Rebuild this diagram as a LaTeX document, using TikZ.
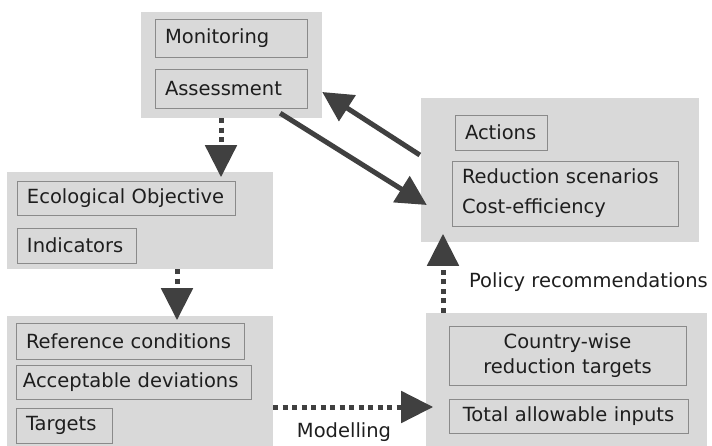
\documentclass[tikz,border=0pt]{standalone}
\usepackage{fontspec}
\setmainfont{DejaVu Sans}
\usetikzlibrary{arrows.meta,calc}
\definecolor{grp}{HTML}{D9D9D9}
\definecolor{bord}{HTML}{8A8A8A}
\definecolor{ink}{HTML}{1E1E1E}
\definecolor{arr}{HTML}{404040}
\begin{document}
\begin{tikzpicture}[x=1pt,y=-1pt,
  group/.style={fill=grp,draw=none,inner sep=0pt,minimum width=#1},
  item/.style={draw=bord,line width=0.8pt,fill=grp,inner xsep=10pt,inner ysep=0pt,
     text=ink,font=\fontsize{19.5}{30}\selectfont,align=left,text width=#1},
  ctritem/.style={item=#1,align=center},
  lbl/.style={text=ink,font=\fontsize{19.5}{23}\selectfont,inner sep=0pt},
  dotarr/.style={draw=arr,line width=5pt,dash pattern=on 5pt off 4.5pt,
     -{Triangle[length=32pt,width=31pt,fill=arr]}},
  solarr/.style={draw=arr,line width=5pt,
     -{Triangle[length=30pt,width=30pt,fill=arr]}}]
\useasboundingbox (0,0) rectangle (712,446);
% groups
\node[group=181pt,minimum height=106pt] (G1) at (231.5,65) {};
\node[group=266pt,minimum height=97pt]  (G2) at (140,220.5) {};
\node[group=266pt,minimum height=130pt] (G3) at (140,381) {};
\node[group=278pt,minimum height=144pt] (G4) at (560,170) {};
\node[group=281pt,minimum height=133pt] (G5) at (566.5,379.5) {};
% items
\node[item=132pt,minimum height=38pt] (mon) at (231,38) {Monitoring};
\node[item=132pt,minimum height=39pt] (ass) at (231,88.5) {Assessment};
\node[item=198pt,minimum height=34pt] (eco) at (126,198) {Ecological Objective};
\node[item=99pt,minimum height=35pt] (ind) at (76.5,245.5) {Indicators};
\node[item=208pt,minimum height=36pt] (ref) at (130,341) {Reference conditions};
\node[item=221pt,inner xsep=7pt,minimum height=34pt] (acc) at (133.5,382) {Acceptable deviations};
\node[item=76pt,minimum height=35pt] (tar) at (64,425.5) {Targets};
\node[item=72pt,minimum height=35pt] (act) at (501,132.5) {Actions};
\node[item=206pt,minimum height=65pt] (red) at (565,193.5) {Reduction scenarios\\Cost-efficiency};
\node[ctritem=217pt,minimum height=59pt,font=\fontsize{19.5}{25}\selectfont] (cty) at (567.5,355.5) {Country-wise\\reduction targets};
\node[ctritem=219pt,minimum height=34pt] (tot) at (568.5,416) {Total allowable inputs};
% dotted arrows
\draw[dotarr] ([xshift=-10.5pt]G1.south) -- ++(0,59);
\draw[dotarr] ([xshift=37pt]G2.south) -- ++(0,51);
\draw[dotarr] ([yshift=-26pt]G3.east) -- ++(160,0);
\draw[dotarr] ([xshift=-123.5pt]G5.north) -- ++(0,-79);
% solid arrows
\draw[solarr] ($(G1.south east)+(-42,-5)$) -- ($(G4.west)+(6,35)$);
\draw[solarr] ($(G4.west)+(-1,-15)$) -- ($(G1.east)+(0,27)$);
% labels
\node[lbl] (mod) at (344,432) {Modelling};
\node[lbl] (pol) at (588.5,282) {Policy recommendations};
\end{tikzpicture}
\end{document}
